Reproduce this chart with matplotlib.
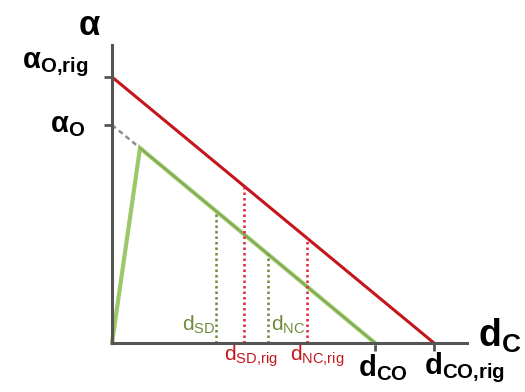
import matplotlib
matplotlib.use('Agg')
import matplotlib.pyplot as plt

plt.rcParams['mathtext.fontset'] = 'custom'
plt.rcParams['mathtext.rm'] = 'Liberation Sans'
plt.rcParams['mathtext.it'] = 'Liberation Sans'
plt.rcParams['mathtext.bf'] = 'Liberation Sans:bold'
plt.rcParams['font.family'] = 'Liberation Sans'

# schematic quantities (arbitrary units, origin at the axes corner)
alpha_o_rig = 266
alpha_o = 218
d_co_rig = 322
d_co = 263
peak = (28, 195)              # end of the rising branch of the real curve
d_sd, d_nc = 104, 156         # read on the green line
d_sd_rig, d_nc_rig = 132, 195 # read on the red line

red = '#c4161c'
red_dot = '#e3263a'
green = '#9cc76a'
green_core = '#5f7f39'
green_dot = '#6f8a3c'
axis_col = '#555555'


def on_line(a0, dmax, d):
    return a0 * (1 - d / dmax)


fig = plt.figure(figsize=(5.25, 3.92), dpi=100)
ax = fig.add_axes([0, 0, 1, 1])
ax.set_xlim(-112, 413)
ax.set_ylim(-49, 343)

# axes drawn as spines through the origin
for side in ['top', 'right']:
    ax.spines[side].set_visible(False)
ax.spines['left'].set_position(('data', 0))
ax.spines['bottom'].set_position(('data', 0))
ax.spines['left'].set_bounds(0, 298)
ax.spines['bottom'].set_bounds(0, 355)
for side in ['left', 'bottom']:
    ax.spines[side].set_color(axis_col)
    ax.spines[side].set_linewidth(2.2)
ax.set_xticks([d_co, d_co_rig])
ax.set_yticks([alpha_o, alpha_o_rig])
ax.tick_params(direction='out', length=6, width=2, color=axis_col,
               labelleft=False, labelbottom=False)

# rigid line
ax.plot([0, d_co_rig], [alpha_o_rig, 0], color=red, lw=2.2, solid_capstyle='butt')

# extrapolation of the real line back to the axis
ax.plot([0, peak[0]], [alpha_o, peak[1]], color='#8a8f9a', lw=1.8, ls=(0, (2, 1.5)))

# real curve: rise then linear decay
ax.plot([0, peak[0], d_co], [0, peak[1], 0], color=green, lw=3.0, solid_joinstyle='miter')
ax.plot([peak[0], d_co], [peak[1], 0], color=green_core, lw=0.9, alpha=0.55)

# design points
for d in [d_sd, d_nc]:
    ax.plot([d, d], [0, on_line(alpha_o, d_co, d)], color=green_dot, lw=1.8, ls=(0, (1, 1.2)))
for d in [d_sd_rig, d_nc_rig]:
    ax.plot([d, d], [0, on_line(alpha_o_rig, d_co_rig, d)], color=red_dot, lw=1.8, ls=(0, (1, 1.2)))

# labels
ax.text(-23, 318, 'α', fontsize=25, fontweight='bold', ha='center', va='center')
ax.text(-90, 278, r'$\mathbf{α}_{\mathbf{O{,}rig}}$', fontsize=21, ha='left', va='center')
ax.text(-62, 218, r'$\mathbf{α}_{\mathbf{O}}$', fontsize=21, ha='left', va='center')

ax.text(d_sd - 34, 18, r'$\mathrm{d}_{\mathrm{SD}}$', fontsize=15, color=green_dot, ha='left', va='center')
ax.text(d_nc + 3, 18, r'$\mathrm{d}_{\mathrm{NC}}$', fontsize=15, color=green_dot, ha='left', va='center')
ax.text(d_sd_rig - 20, -13, r'$\mathrm{d}_{\mathrm{SD{,}rig}}$', fontsize=15, color=red, ha='left', va='center')
ax.text(d_nc_rig - 17, -13, r'$\mathrm{d}_{\mathrm{NC{,}rig}}$', fontsize=15, color=red, ha='left', va='center')

ax.text(d_co - 17, -25, r'$\mathbf{d}_{\mathbf{CO}}$', fontsize=21, ha='left', va='center')
ax.text(d_co_rig - 10, -25, r'$\mathbf{d}_{\mathbf{CO{,}rig}}$', fontsize=21, ha='left', va='center')
ax.text(366, 7, r'$\mathbf{d}_{\mathbf{C}}$', fontsize=27, ha='left', va='center')

fig.savefig('out.png', dpi=100, facecolor='white')
